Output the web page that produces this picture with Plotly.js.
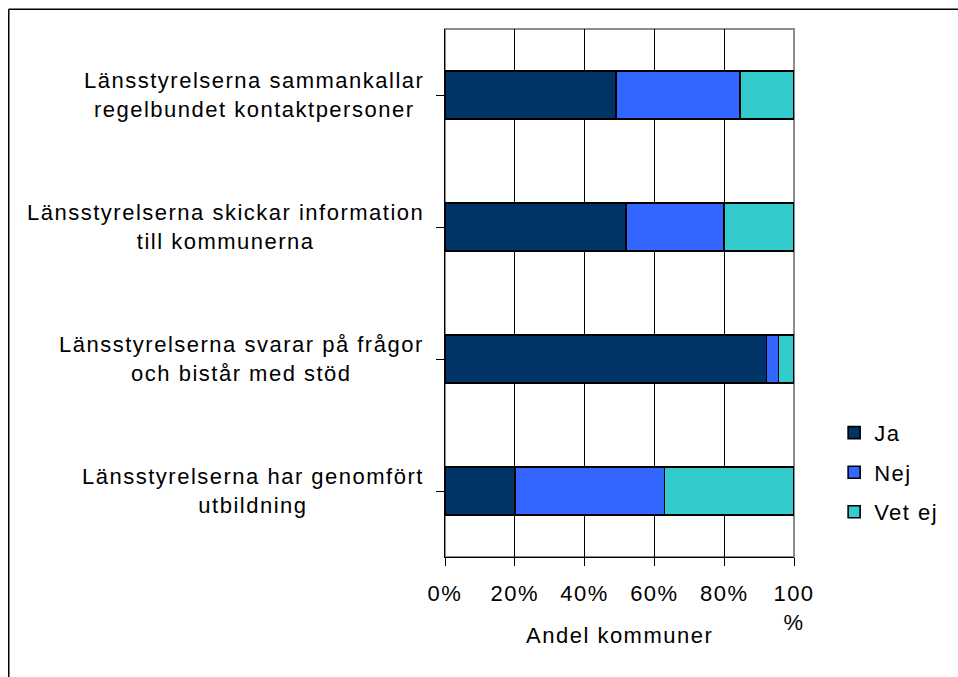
<!DOCTYPE html>
<html>
<head>
<meta charset="utf-8">
<script src="https://cdn.plot.ly/plotly-3.0.1.min.js"></script>
<style>
  html, body { margin: 0; padding: 0; background: #fff; }
  #chart { width: 958px; height: 677px; }
  text { letter-spacing: 1.5px; }
</style>
</head>
<body>
<div id="chart"></div>
<script>
const categories = [
  "Länsstyrelserna sammankallar<br>regelbundet kontaktpersoner",
  "Länsstyrelserna skickar information<br>till kommunerna",
  "Länsstyrelserna svarar på frågor<br>och bistår med stöd",
  "Länsstyrelserna har genomfört<br>utbildning"
];
const ja    = [49.0, 51.9, 92.1, 20.1];
const nej   = [35.6, 28.1, 3.4, 42.8];
const vetEj = [15.4, 20.0, 4.5, 37.1];
const seriesNames = ["Ja", "Nej", "Vet ej"];
const seriesColors = ["#003366", "#3366FF", "#33CCCC"];
const tickVals = [0, 20, 40, 60, 80, 100];
const tickText = ["0%", "20%", "40%", "60%", "80%", "100<br>%"];
const xTitle = "Andel kommuner";

const FONT = "Liberation Sans, Arial, sans-serif";
const FS = 22;
const values = [ja, nej, vetEj];
const catIdx = categories.map((c, i) => i);

const traces = values.map((v, k) => ({
  type: "bar",
  orientation: "h",
  name: seriesNames[k],
  x: v,
  y: catIdx,
  width: 0.36,
  legendgroup: "g" + k,
  marker: { color: seriesColors[k], line: { color: "#000", width: 1.6 } },
  hoverinfo: "skip"
}));

const annotations = categories.map((c, i) => ({
  xref: "paper", yref: "y",
  x: -0.055, y: i,
  xanchor: "right", yanchor: "middle",
  align: "center",
  text: c,
  showarrow: false,
  font: { family: FONT, size: FS, color: "#000" }
}));
annotations.push({
  xref: "paper", yref: "paper",
  x: 0.5, y: -0.1496,
  xanchor: "center", yanchor: "middle",
  text: xTitle,
  showarrow: false,
  font: { family: FONT, size: FS, color: "#000" }
});

const layout = {
  width: 958, height: 677,
  margin: { l: 445, r: 164, t: 29, b: 120, autoexpand: false },
  paper_bgcolor: "#fff",
  plot_bgcolor: "#fff",
  barmode: "stack",
  showlegend: true,
  hovermode: false,
  font: { family: FONT, size: FS, color: "#000" },
  xaxis: {
    range: [0, 100],
    tickvals: tickVals,
    ticktext: tickText,
    ticks: "outside",
    ticklen: 8,
    tickcolor: "#000",
    tickwidth: 1,
    ticklabelstandoff: 9,
    showline: true,
    linecolor: "#000",
    linewidth: 1,
    showgrid: true,
    gridcolor: "#000",
    gridwidth: 1,
    zeroline: false,
    fixedrange: true,
    automargin: false,
    tickfont: { family: FONT, size: FS, color: "#000" }
  },
  yaxis: {
    range: [3.5, -0.5],
    tickvals: catIdx,
    showticklabels: false,
    tickson: "boundaries",
    ticks: "outside",
    ticklen: 8,
    tickcolor: "#000",
    showline: true,
    linecolor: "#000",
    linewidth: 1,
    showgrid: false,
    zeroline: false,
    fixedrange: true,
    automargin: false
  },
  legend: {
    x: 1.115, xanchor: "left",
    y: 0.275, yanchor: "top",
    traceorder: "grouped",
    tracegroupgap: 8,
    font: { family: FONT, size: FS, color: "#000" },
    bgcolor: "rgba(0,0,0,0)",
    itemwidth: 30
  },
  annotations: annotations,
  shapes: [
    { type: "rect", xref: "paper", yref: "paper", x0: 0, x1: 1, y0: 0, y1: 1,
      line: { color: "#8c8c8c", width: 2 }, layer: "between" },
    { type: "line", xref: "paper", yref: "paper", x0: -1.25, x1: 1.47, y0: 1.0375, y1: 1.0375,
      line: { color: "#000", width: 1.5 } },
    { type: "line", xref: "paper", yref: "paper", x0: -1.25, x1: -1.25, y0: 1.0375, y1: -0.25,
      line: { color: "#000", width: 1.5 } }
  ]
};

Plotly.newPlot("chart", traces, layout, { displayModeBar: false, staticPlot: true });
</script>
</body>
</html>
